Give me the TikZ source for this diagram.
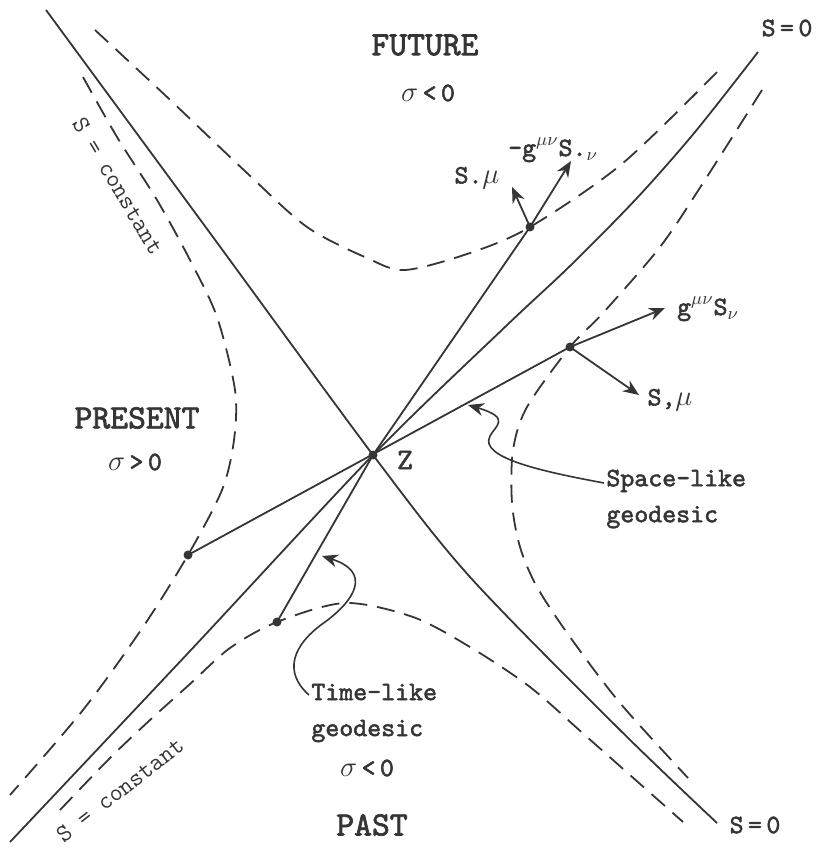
\documentclass[tikz,border=0pt]{standalone}
\usepackage{fontspec}
\usepackage{amsmath}
\newfontfamily\typebold{lmmono10-regular.otf}[FakeBold=2]
\usetikzlibrary{arrows.meta,positioning,calc}
\definecolor{ink}{HTML}{353535}
\tikzset{
  cone/.style={draw=ink,line width=0.9pt},
  hyp/.style={draw=ink,line width=0.9pt,dash pattern=on 9pt off 5pt},
  vec/.style={draw=ink,line width=0.9pt,-{Stealth[length=8pt,width=6.5pt]}},
  pt/.style={circle,fill=ink,inner sep=0pt,minimum size=4.5pt},
  lbl/.style={text=ink,inner sep=1pt,font=\typebold\fontsize{13.3}{18}\selectfont},
  big/.style={text=ink,inner sep=1pt,font=\typebold\fontsize{17}{18}\selectfont},
  thin/.style={text=ink,inner sep=1pt,font=\ttfamily\fontsize{12.5}{14}\selectfont}
}

\begin{document}
\begin{tikzpicture}[x=0.5pt,y=-0.5pt]
  \useasboundingbox (0,0) rectangle (833,849);

  \node[pt] (Z) at (373,455) {};
  \node[pt] (tf) at (530,227) {};
  \node[pt] (tp) at (277,622) {};
  \node[pt] (sr) at (570,347) {};
  \node[pt] (sl) at (188,555) {};

  \draw[cone] plot[smooth] coordinates {(46,10) (210,233) (Z.center) (470,577) (620,730) (717,823)};
  \draw[cone] plot[smooth] coordinates {(10,842) (190,651) (Z.center) (505,327) (570,266) (637,198) (695,132) (758,52)};
  \draw[cone] (tp.center) -- (Z.center) -- (tf.center);
  \draw[cone] (sl.center) -- (sr.center);

  \draw[hyp] plot[smooth] coordinates {(95,30) (167,97) (247,173) (307,227) (367,258) (405,270) (470,253) (tf.center) (623,163) (722,67)};
  \draw[hyp] plot[smooth] coordinates {(83,77) (117,137) (157,200) (190,260) (217,317) (235,390) (234,440) (222,490) (sl.center) (143,627) (83,710) (10,795)};
  \draw[hyp] plot[smooth] coordinates {(762,90) (703,183) (660,247) (603,313) (sr.center) (527,407) (513,450) (512,503) (520,547) (537,587) (570,637) (620,703) (688,778)};
  \draw[hyp] plot[smooth] coordinates {(60,810) (110,758) (150,720) (190,684) (230,648) (tp.center) (345,603) (413,617) (470,647) (530,687) (587,737) (683,822)};

  \coordinate (tfg) at (571,161);
  \coordinate (tfs) at (512,187);
  \coordinate (srg) at (665,308);
  \coordinate (srs) at (639,395);
  \draw[vec] (tf.center) -- (tfg);
  \draw[vec] (tf.center) -- (tfs);
  \draw[vec] (sr.center) -- (srg);
  \draw[vec] (sr.center) -- (srs);

  \node[big] (fut) at (425,45) {FUTURE};
  \node[lbl] (fsig) at (428,93) {$\sigma$\,<\,0};
  \node[lbl] (s0top) at (787,28) {S\,=\,0};
  \node[lbl] (gup) at (553,150) {-g$^{\mu\nu}$S.$_\nu$};
  \node[lbl] (sup1) at (477,178) {S.$\mu$};
  \node[lbl] (gdn) at (708,309) {g$^{\mu\nu}$S$_\nu$};
  \node[lbl] (sdn) at (670,400) {S,$\mu$};
  \node[text=ink,font=\typebold\fontsize{15}{15}\selectfont] (zlab) at (405,460) {Z};
  \node[big] (pres) at (137,418) {PRESENT};
  \node[lbl] (psig) at (135,462) {$\sigma$\,>\,0};
  \node[lbl] (bsig) at (367,768) {$\sigma$\,<\,0};
  \node[big] (past) at (372,825) {PAST};
  \node[lbl] (s0bot) at (755,825) {S\,=\,0};
  \node[thin,rotate=-59] (sc1) at (118,186) {S = constant};
  \node[thin,rotate=38] (sc2) at (120,790) {S = constant};

  \node[lbl,anchor=west,align=left] (slab) at (604,499) {Space-like\\geodesic};
  \node[lbl,anchor=west,align=left] (tlab) at (309,713) {Time-like\\geodesic};
  \coordinate (sarr) at (468,405);
  \coordinate (tarr) at (322,556);
  \draw[vec,line width=0.8pt] ([yshift=8pt]slab.west) .. controls (545,472) and (478,458) .. (490,436) .. controls (495,426) and (512,418) .. (sarr);
  \draw[vec,line width=0.8pt] ([yshift=9pt]tlab.west) .. controls (283,672) and (292,645) .. (325,622) .. controls (355,600) and (372,572) .. (tarr);
\end{tikzpicture}
\end{document}
